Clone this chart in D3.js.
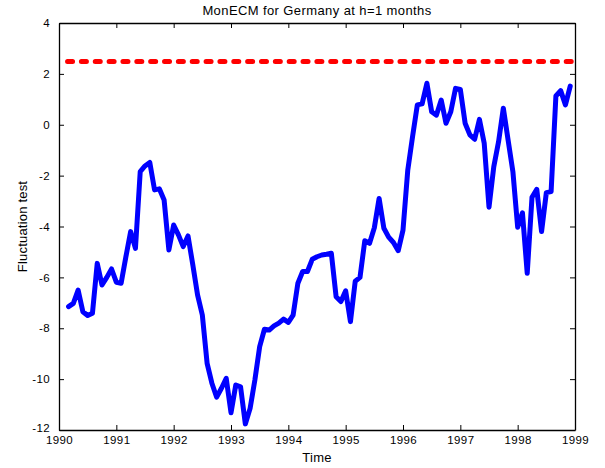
<!DOCTYPE html>
<html><head><meta charset="utf-8">
<script src="https://cdn.jsdelivr.net/npm/d3@7"></script>
<style>
html,body{margin:0;padding:0;background:#fff;}
svg text{font-family:"Liberation Sans",Arial,Helvetica,sans-serif;fill:#000;}
</style></head>
<body>
<script>
// Monthly observations, March 1990 – December 1998
const startYear = 1990, startMonth = 2; // March (0-based)
const fluctuation = [
  -7.15,-7.02,-6.50,-7.35,-7.50,-7.41,-5.45,-6.30,-6.00,-5.67,
  -6.19,-6.23,-5.19,-4.20,-4.86,-1.84,-1.62,-1.48,-2.56,-2.52,
  -2.96,-4.92,-3.94,-4.33,-4.79,-4.37,-5.50,-6.69,-7.48,-9.38,
  -10.16,-10.71,-10.36,-9.97,-11.32,-10.23,-10.30,-11.76,-11.15,-10.03,
  -8.72,-8.04,-8.07,-7.91,-7.80,-7.64,-7.77,-7.48,-6.23,-5.77,
  -5.77,-5.29,-5.19,-5.12,-5.09,-5.05,-6.76,-6.95,-6.53,-7.74,
  -6.15,-6.00,-4.56,-4.66,-4.05,-2.90,-4.07,-4.42,-4.63,-4.95,
  -4.14,-1.78,-0.47,0.78,0.82,1.63,0.51,0.38,0.97,0.06,
  0.51,1.43,1.39,0.06,-0.40,-0.57,0.21,-0.73,-3.24,-1.65,
  -0.67,0.65,-0.60,-1.84,-4.03,-3.46,-5.84,-2.85,-2.54,-4.20,
  -2.67,-2.63,1.13,1.34,0.78,1.52
];
const criticalValue = 2.49;
const xTicks = [1990,1991,1992,1993,1994,1995,1996,1997,1998,1999];
const yTicks = [-12,-10,-8,-6,-4,-2,0,2,4];
const titleText = "MonECM for Germany at h=1 months";
const xLabel = "Time";
const yLabel = "Fluctuation test";

const dates = fluctuation.map((_, i) => startYear + (startMonth + i) / 12);
const series = fluctuation.map((v, i) => ({t: dates[i], v}));

const W = 605, H = 468;
const PL = 59, PR = 575, PT = 23, PB = 430;

const svg = d3.select("body").append("svg").attr("width", W).attr("height", H);

const x = d3.scaleLinear().domain([1990, 1999]).range([PL, PR]);
const y = d3.scaleLinear().domain([-12, 4]).range([PB, PT]);

// critical value line (dash pattern fitted so it ends on a dash)
const cx1 = x(dates[0]) - 1, cx2 = x(dates[dates.length - 1]) + 1;
const dashLen = 5, nPer = 36;
const gapLen = (cx2 - cx1 - dashLen) / nPer - dashLen;
svg.append("line")
  .attr("x1", cx1).attr("x2", cx2)
  .attr("y1", y(criticalValue)).attr("y2", y(criticalValue))
  .attr("stroke", "#ff0000").attr("stroke-width", 5)
  .attr("stroke-dasharray", `${dashLen},${gapLen}`).attr("stroke-linecap", "round");

// series
svg.append("path").datum(series)
  .attr("fill", "none").attr("stroke", "#0000ff").attr("stroke-width", 5)
  .attr("stroke-linejoin", "round").attr("stroke-linecap", "round")
  .attr("d", d3.line().x(d => x(d.t)).y(d => y(d.v)));

// axes (inward ticks, box)
const fmt = d3.format("d");
const gBottom = svg.append("g").attr("transform", `translate(0,${PB})`)
  .call(d3.axisBottom(x).tickValues(xTicks).tickFormat(fmt).tickSizeInner(-5).tickSizeOuter(0).tickPadding(6));
const gTop = svg.append("g").attr("transform", `translate(0,${PT})`)
  .call(d3.axisTop(x).tickValues(xTicks).tickFormat("").tickSizeInner(-5).tickSizeOuter(0));
const gLeft = svg.append("g").attr("transform", `translate(${PL},0)`)
  .call(d3.axisLeft(y).tickValues(yTicks).tickFormat(d => d < 0 ? "-" + Math.abs(d) : d).tickSizeInner(-5).tickSizeOuter(0).tickPadding(9));
const gRight = svg.append("g").attr("transform", `translate(${PR},0)`)
  .call(d3.axisRight(y).tickValues(yTicks).tickFormat("").tickSizeInner(-5).tickSizeOuter(0));

[gBottom, gTop, gLeft, gRight].forEach(g => {
  g.selectAll(".domain").attr("stroke", "#000").attr("stroke-width", 1.3);
  g.selectAll(".tick line").attr("stroke", "#000").attr("stroke-width", 1);
  g.selectAll(".tick text").attr("font-size", 11.5).attr("fill", "#000")
    .attr("letter-spacing", 0.4)
    .style("font-family", "'Liberation Sans', Arial, sans-serif");
});
gBottom.selectAll(".tick text").attr("dy", "0.7em");
gLeft.selectAll(".tick text").filter(d => d === -12).attr("dy", "0.15em");

svg.append("text").attr("x", (PL + PR) / 2).attr("y", 15).attr("text-anchor", "middle")
  .attr("font-size", 13).attr("letter-spacing", 0.4).text(titleText);
svg.append("text").attr("x", (PL + PR) / 2).attr("y", 462).attr("text-anchor", "middle")
  .attr("font-size", 13).attr("letter-spacing", 0.3).text(xLabel);
svg.append("text").attr("transform", `translate(27,${(PT + PB) / 2}) rotate(-90)`)
  .attr("text-anchor", "middle").attr("font-size", 13).attr("letter-spacing", 0.2).text(yLabel);
</script>
</body></html>
